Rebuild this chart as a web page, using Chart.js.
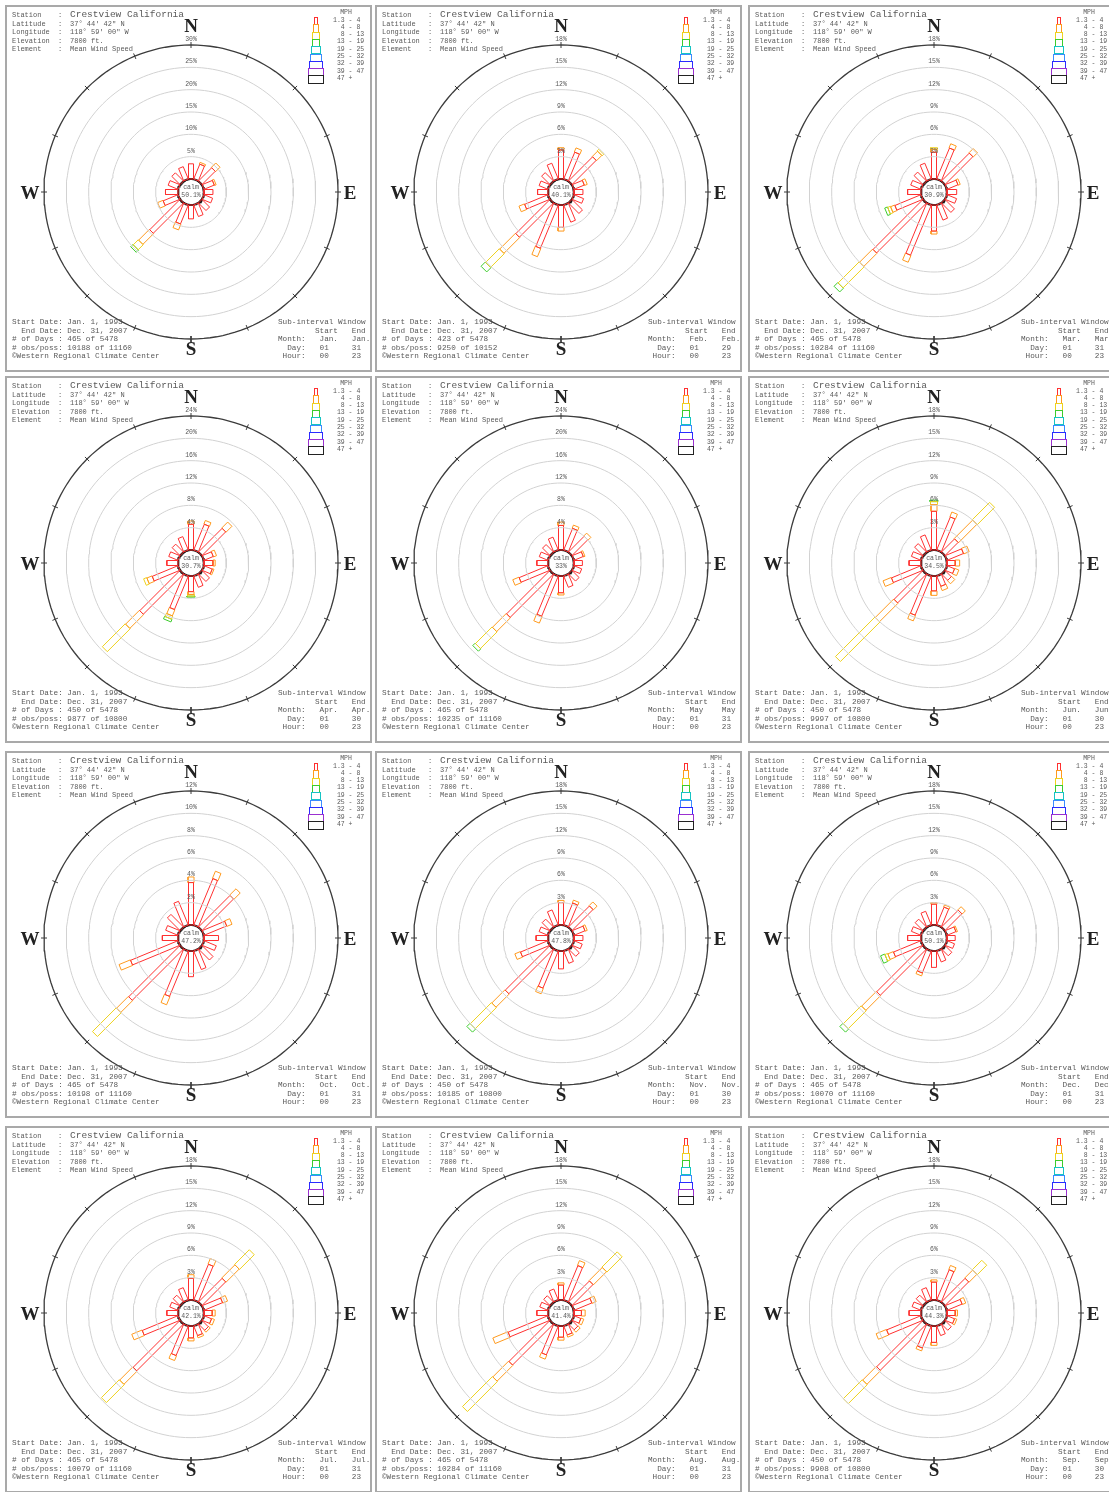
<!DOCTYPE html>
<html>
<head>
<meta charset="utf-8">
<script src="https://cdn.jsdelivr.net/npm/chart.js@4.4.0/dist/chart.umd.min.js"></script>
<style>
  body { margin: 0; background: #fff; width: 1109px; height: 1492px; overflow: hidden; position: relative; }
  .panel { position: absolute; width: 363px; height: 363px; outline: 2px solid #a9a9a9; background: #fff; }
  .panel canvas { position: absolute; left: 0; top: 0; }
  .t { position: absolute; white-space: pre; line-height: 1; font-family: "Liberation Mono", "DejaVu Sans Mono", monospace; color: #5a5a5a; }
  .dir { font-family: "Liberation Serif", "DejaVu Serif", serif; font-weight: bold; color: #222; }
  .box { position: absolute; box-sizing: border-box; border: 1px solid; background: #fff; }
</style>
</head>
<body>
<script>
// panel order as laid out in the picture (row by row)
const months = ["Jan.", "Feb.", "Mar.", "Apr.", "May", "Jun.", "Oct.", "Nov.", "Dec.", "Jul.", "Aug.", "Sep."];
const endDay = ["31", "29", "31", "30", "31", "30", "31", "30", "31", "31", "31", "30"];
const daysUsed = ["465", "423", "465", "450", "465", "450", "465", "450", "465", "465", "465", "450"];
const obsUsed = ["10188", "9250", "10284", "9877", "10235", "9997", "10198", "10185", "10070", "10079", "10284", "9908"];
const obsPoss = ["11160", "10152", "11160", "10800", "11160", "10800", "11160", "10800", "11160", "11160", "11160", "10800"];
const calmText = ["50.1%", "40.1%", "30.9%", "30.7%", "33%", "34.5%", "47.2%", "47.8%", "50.1%", "42.1%", "41.4%", "44.3%"];
const ringStep = [5, 3, 3, 4, 4, 3, 2, 3, 3, 3, 3, 3];

const compass = ["N", "NNE", "NE", "ENE", "E", "ESE", "SE", "SSE", "S", "SSW", "SW", "WSW", "W", "WNW", "NW", "NNW"];
const speedClasses = ["1.3 - 4", "  4 - 8", "  8 - 13", " 13 - 19", " 19 - 25", " 25 - 32", " 32 - 39", " 39 - 47", " 47 +"];
const classColors = ["#ff3030", "#ff9a1e", "#eed21e", "#3ccc2c", "#16c4c4", "#3a8cff", "#2b2bff", "#9b30d0", "#222222"];

// percent of hours, per direction (N .. NNW), by speed class
const red = [
  [3.4, 3.6, 4.2, 2.5, 2.0, 2.1, 2.4, 2.8, 3.1, 4.6, 9.6, 3.6, 2.8, 2.4, 2.6, 3.0],
  [3.9, 3.9, 4.6, 1.5, 1.2, 1.4, 2.0, 2.5, 3.0, 6.3, 6.5, 3.4, 1.4, 1.3, 1.6, 2.3],
  [3.6, 4.5, 5.3, 1.6, 1.3, 1.4, 1.8, 2.2, 3.5, 7.3, 9.5, 3.8, 1.8, 1.5, 1.7, 2.3],
  [4.6, 5.0, 6.0, 1.8, 1.6, 1.6, 1.9, 2.2, 2.8, 6.5, 10.2, 5.0, 2.0, 1.8, 2.0, 2.6],
  [4.4, 4.2, 4.0, 1.8, 1.5, 1.5, 1.8, 2.2, 3.0, 7.8, 11.0, 5.6, 2.0, 1.7, 1.9, 2.5],
  [5.2, 4.8, 2.5, 2.4, 1.1, 1.1, 1.2, 1.5, 2.0, 5.7, 5.5, 4.3, 1.6, 1.4, 1.6, 2.2],
  [3.8, 4.5, 4.0, 2.2, 1.3, 1.2, 1.4, 1.8, 2.3, 4.4, 6.5, 4.6, 1.4, 1.2, 1.6, 2.3],
  [3.0, 3.2, 4.0, 1.6, 1.2, 1.2, 1.4, 1.8, 2.4, 5.4, 8.5, 4.0, 1.6, 1.3, 1.5, 2.2],
  [2.8, 2.6, 3.2, 1.3, 1.1, 1.1, 1.3, 1.6, 2.2, 3.2, 8.8, 4.0, 1.8, 1.4, 1.5, 2.0],
  [2.9, 5.2, 4.5, 2.7, 1.1, 1.1, 1.2, 1.4, 1.6, 4.3, 8.9, 5.2, 1.5, 1.2, 1.3, 1.8],
  [2.0, 5.0, 4.0, 2.6, 1.0, 1.0, 1.1, 1.3, 1.5, 4.2, 7.8, 5.8, 1.5, 1.2, 1.2, 1.6],
  [2.4, 4.4, 4.5, 2.2, 1.1, 1.1, 1.2, 1.4, 2.2, 3.2, 8.8, 5.0, 1.6, 1.3, 1.3, 1.8],
];
const orange = [
  [0, 0.4, 1.4, 0.4, 0, 0, 0, 0, 0, 1.4, 3.4, 1.3, 0, 0, 0, 0],
  [0.3, 0.6, 1.0, 0.4, 0, 0, 0, 0, 0.5, 1.2, 3.0, 0.8, 0, 0, 0, 0],
  [0.4, 0.6, 0.8, 0.3, 0, 0, 0, 0, 0.4, 1.0, 2.5, 0.6, 0, 0, 0, 0],
  [0.6, 0.7, 1.5, 0.6, 0.4, 0.3, 0, 0, 0.5, 1.2, 3.5, 1.0, 0, 0, 0, 0],
  [0.6, 0.6, 0.7, 0.3, 0, 0, 0, 0, 0.4, 1.3, 3.5, 1.2, 0, 0, 0, 0],
  [0.9, 0.7, 3.5, 0.8, 0.6, 0.6, 0.6, 0.6, 0.6, 0.8, 3.5, 1.2, 0, 0, 0, 0],
  [0.5, 0.7, 0.8, 0.5, 0, 0, 0, 0, 0, 0.8, 1.5, 1.1, 0, 0, 0, 0],
  [0.3, 0.4, 0.7, 0.3, 0, 0, 0, 0, 0, 0.8, 2.5, 0.8, 0, 0, 0, 0],
  [0.2, 0.3, 0.6, 0.2, 0, 0, 0, 0, 0, 0.4, 2.8, 0.8, 0, 0, 0, 0],
  [0.5, 0.8, 2.5, 0.7, 0.4, 0.4, 0.3, 0.3, 0.4, 0.7, 2.5, 1.5, 0, 0, 0, 0],
  [0.3, 0.7, 2.5, 0.6, 0.5, 0.4, 0.4, 0.3, 0.4, 0.6, 3.0, 2.2, 0, 0, 0, 0],
  [0.3, 0.6, 1.5, 0.5, 0.3, 0.3, 0, 0, 0.4, 0.4, 2.6, 1.5, 0, 0, 0, 0],
];
const yellow = [
  [0, 0, 0, 0, 0, 0, 0, 0, 0, 0, 1.6, 0, 0, 0, 0, 0],
  [0, 0, 0.3, 0, 0, 0, 0, 0, 0, 0, 2.6, 0, 0, 0, 0, 0],
  [0.2, 0, 0, 0, 0, 0, 0, 0, 0, 0, 4.0, 0.4, 0, 0, 0, 0],
  [0, 0, 0, 0, 0, 0, 0, 0, 0.3, 0.6, 5.8, 0.6, 0, 0, 0, 0],
  [0, 0, 0, 0, 0, 0, 0, 0, 0, 0, 4.2, 0, 0, 0, 0, 0],
  [0.4, 0, 3.3, 0, 0, 0, 0, 0, 0, 0, 7.5, 0, 0, 0, 0, 0],
  [0, 0, 0, 0, 0, 0, 0, 0, 0, 0, 3.0, 0, 0, 0, 0, 0],
  [0, 0, 0, 0, 0, 0, 0, 0, 0, 0, 4.0, 0, 0, 0, 0, 0],
  [0, 0, 0, 0, 0, 0, 0, 0, 0, 0, 3.4, 0.4, 0, 0, 0, 0],
  [0, 0, 2.8, 0, 0, 0, 0, 0, 0, 0, 3.4, 0, 0, 0, 0, 0],
  [0, 0, 2.9, 0, 0, 0, 0, 0, 0, 0, 5.7, 0, 0, 0, 0, 0],
  [0, 0, 1.8, 0, 0, 0, 0, 0, 0, 0, 3.6, 0, 0, 0, 0, 0],
];
const green = [
  [0, 0, 0, 0, 0, 0, 0, 0, 0, 0, 0.7, 0, 0, 0, 0, 0],
  [0, 0, 0, 0, 0, 0, 0, 0, 0, 0, 0.8, 0, 0, 0, 0, 0],
  [0, 0, 0, 0, 0, 0, 0, 0, 0, 0, 0.7, 0.4, 0, 0, 0, 0],
  [0, 0, 0, 0, 0, 0, 0, 0, 0.2, 0.5, 0, 0, 0, 0, 0, 0],
  [0, 0, 0, 0, 0, 0, 0, 0, 0, 0, 0.6, 0, 0, 0, 0, 0],
  [0.2, 0, 0, 0, 0, 0, 0, 0, 0, 0, 0, 0, 0, 0, 0, 0],
  [0, 0, 0, 0, 0, 0, 0, 0, 0, 0, 0, 0, 0, 0, 0, 0],
  [0, 0, 0, 0, 0, 0, 0, 0, 0, 0, 0.6, 0, 0, 0, 0, 0],
  [0, 0, 0, 0, 0, 0, 0, 0, 0, 0, 0.6, 0.6, 0, 0, 0, 0],
  [0, 0, 0, 0, 0, 0, 0, 0, 0, 0, 0, 0, 0, 0, 0, 0],
  [0, 0, 0, 0, 0, 0, 0, 0, 0, 0, 0, 0, 0, 0, 0, 0],
  [0, 0, 0, 0, 0, 0, 0, 0, 0, 0, 0, 0, 0, 0, 0, 0],
];

const colLeft = [7, 377, 750];
const rowTop = [7, 378, 753, 1128];
const SIZE = 363;
const CX = 184, CY = 185;            // rose centre inside a panel
const calmR = 13, outerR = 147;
const ringGap = (outerR - calmR) / 6;
const halfWidth = [2.5, 3, 3.5, 4];

function toXY(r, deg) {
  const a = (deg * Math.PI) / 180;
  return { x: r * Math.sin(a), y: r * Math.cos(a) };
}

function circlePoints(r) {
  const pts = [];
  for (let i = 0; i <= 144; i++) pts.push(toXY(r, i * 2.5));
  return pts;
}

function barPoints(r0, r1, deg, w) {
  const a = (deg * Math.PI) / 180;
  const ux = Math.sin(a), uy = Math.cos(a);
  const nx = Math.cos(a), ny = -Math.sin(a);
  const p = (r, s) => ({ x: r * ux + s * w * nx, y: r * uy + s * w * ny });
  return [p(r0, 1), p(r1, 1), p(r1, -1), p(r0, -1), p(r0, 1)];
}

function outline(points, color, width) {
  return {
    data: points,
    showLine: true,
    borderColor: color,
    borderWidth: width,
    pointRadius: 0,
    fill: false,
    tension: 0,
  };
}

function addText(parent, text, x, y, size, align, cls) {
  const el = document.createElement("div");
  el.className = "t" + (cls ? " " + cls : "");
  el.textContent = text;
  el.style.left = x + "px";
  el.style.top = y + "px";
  el.style.fontSize = size + "px";
  const tx = align === "center" ? "-50%" : align === "right" ? "-100%" : "0";
  el.style.transform = `translate(${tx}, -50%)`;
  parent.appendChild(el);
  return el;
}

function drawPanel(m) {
  const panel = document.createElement("div");
  panel.className = "panel";
  panel.style.left = colLeft[m % 3] + "px";
  panel.style.top = rowTop[Math.floor(m / 3)] + "px";
  document.body.appendChild(panel);

  const canvas = document.createElement("canvas");
  canvas.width = SIZE;
  canvas.height = SIZE;
  panel.appendChild(canvas);

  const pxPerPct = ringGap / ringStep[m];
  const datasets = [];

  for (let k = 1; k <= 5; k++) {
    datasets.push(outline(circlePoints(calmR + k * ringGap), "#d2d2d2", 1));
  }

  const classes = [red[m], orange[m], yellow[m], green[m]];
  compass.forEach((name, d) => {
    let r = calmR;
    classes.forEach((vals, c) => {
      const v = vals[d];
      if (!v) return;
      const r1 = r + v * pxPerPct;
      datasets.push(outline(barPoints(r, r1, d * 22.5, halfWidth[c]), classColors[c], 1));
      r = r1;
    });
  });

  datasets.push(outline(circlePoints(outerR), "#3c3c3c", 1.3));
  for (let d = 0; d < 16; d++) {
    datasets.push(outline([toXY(outerR - 3, d * 22.5), toXY(outerR + 3, d * 22.5)], "#3c3c3c", 1));
  }
  datasets.push(outline(circlePoints(calmR), "#111", 2));

  const chart = new Chart(canvas, {
    type: "scatter",
    data: { datasets: datasets },
    options: {
      responsive: false,
      animation: false,
      events: [],
      layout: { padding: 0 },
      plugins: { legend: { display: false }, tooltip: { enabled: false } },
      scales: {
        x: { type: "linear", min: -CX, max: SIZE - CX, display: false },
        y: { type: "linear", min: -(SIZE - CY), max: CY, display: false },
      },
    },
  });

  // ring labels
  const xs = chart.scales.x, ys = chart.scales.y;
  const x0 = xs.getPixelForValue(0);
  for (let k = 1; k <= 6; k++) {
    const yTop = ys.getPixelForValue(calmR + k * ringGap);
    addText(panel, ringStep[m] * k + "%", x0, yTop - 5, 6.5, "center");
  }

  // calm
  addText(panel, "calm", x0, ys.getPixelForValue(0) - 4, 6.5, "center");
  addText(panel, calmText[m], x0, ys.getPixelForValue(0) + 4, 6.5, "center");

  // compass letters
  addText(panel, "N", x0, 18, 19, "center", "dir");
  addText(panel, "S", x0, 341, 19, "center", "dir");
  addText(panel, "W", 23, CY, 19, "center", "dir");
  addText(panel, "E", 343, CY, 19, "center", "dir");

  // header
  const hLabels = ["Station", "Latitude", "Longitude", "Elevation", "Element"];
  const hValues = ["Crestview California", "37\u00b0 44' 42\" N", "118\u00b0 59' 00\" W", "7800 ft.", "Mean Wind Speed"];
  const hY = [8, 17, 25, 34, 42];
  hLabels.forEach((lab, i) => {
    addText(panel, lab, 5, hY[i], 7, "left");
    addText(panel, ":", 51, hY[i], 7, "left");
    addText(panel, hValues[i], 63, hY[i], i === 0 ? 9.5 : 7, "left");
  });

  // footer left
  const fY = [316, 325, 333, 342, 350];
  const fLines = [
    "Start Date: Jan. 1, 1993",
    "  End Date: Dec. 31, 2007",
    "# of Days : " + daysUsed[m] + " of 5478",
    "# obs/poss: " + obsUsed[m] + " of " + obsPoss[m],
    "\u00a9Western Regional Climate Center",
  ];
  fLines.forEach((s, i) => addText(panel, s, 5, fY[i], 7.7, "left"));

  // footer right
  const mName = months[m].padEnd(4, " ");
  const rLines = [
    "Sub-interval Window",
    "        Start   End",
    "Month:   " + mName + "   " + mName,
    "  Day:   01     " + endDay[m],
    " Hour:   00     23",
  ];
  rLines.forEach((s, i) => addText(panel, s, 271, fY[i], 7.7, "left"));

  // speed legend
  addText(panel, "MPH", 339, 6, 6.5, "center");
  const boxTop = 10, boxH = 7.3;
  speedClasses.forEach((lab, i) => {
    const w = 4 + i * 1.6;
    const b = document.createElement("div");
    b.className = "box";
    b.style.left = 309 - w / 2 + "px";
    b.style.top = boxTop + i * boxH + "px";
    b.style.width = w + "px";
    b.style.height = boxH + 1 + "px";
    b.style.borderColor = classColors[i];
    panel.appendChild(b);
    addText(panel, lab, 326, boxTop + i * boxH + 3.5, 6.5, "left");
  });
}

for (let m = 0; m < months.length; m++) drawPanel(m);
</script>
</body>
</html>
